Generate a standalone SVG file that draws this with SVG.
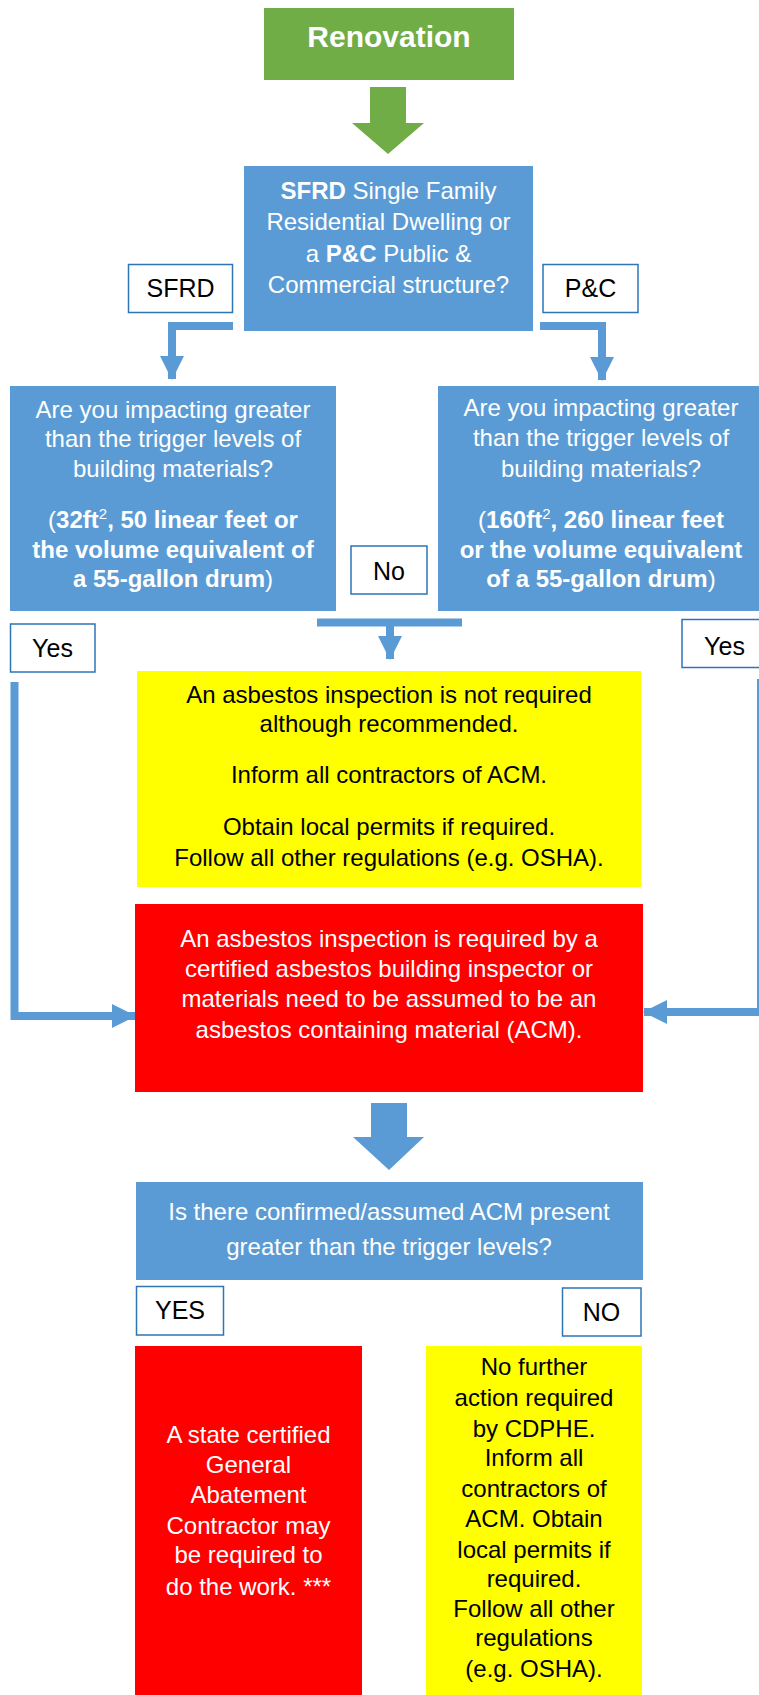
<svg xmlns="http://www.w3.org/2000/svg" width="759" height="1695" viewBox="0 0 759 1695">
  <style>
    text { font-family: "Liberation Sans", Arial, sans-serif; text-anchor: middle; }
    .w { fill: #FFFFFF; font-size: 24px; }
    .k { fill: #000000; font-size: 24px; }
    .lbl { fill: #000000; font-size: 25px; }
    .lblbox { fill: #FFFFFF; stroke: #2E75B6; stroke-width: 1.5; }
    .b { font-weight: bold; }
    .conn { fill: none; stroke: #5B9BD5; stroke-width: 8; stroke-linejoin: miter; }
    .blue { fill: #5B9BD5; }
  </style>
  <defs>
    <marker id="arr" markerUnits="userSpaceOnUse" markerWidth="24" markerHeight="24" viewBox="0 0 24 24" refX="23" refY="12" orient="auto">
      <path d="M0,0 L24,12 L0,24 z" fill="#5B9BD5"/>
    </marker>
  </defs>

  <g id="connectors">
    <!-- green block arrow -->
    <polygon points="370,87 406,87 406,123 424,123 388,154 352,123 370,123" fill="#70AD47"/>
    <!-- SFRD elbow -->
    <path class="conn" d="M233,326 L172,326 L172,379" marker-end="url(#arr)"/>
    <!-- P&C elbow -->
    <path class="conn" d="M540,326 L602,326 L602,380" marker-end="url(#arr)"/>
    <!-- No connector -->
    <path class="conn" d="M317,622.5 L462,622.5"/>
    <path class="conn" d="M390,622 L390,659" marker-end="url(#arr)"/>
    <!-- left Yes -->
    <path class="conn" d="M14.5,682 L14.5,1016 L135,1016" marker-end="url(#arr)"/>
    <!-- right Yes -->
    <path class="conn" d="M761,679 L761,1012 L644,1012" marker-end="url(#arr)"/>
    <!-- blue block arrow -->
    <polygon points="371,1103 407,1103 407,1137 424,1137 389,1170 353,1137 371,1137" fill="#5B9BD5"/>
  </g>

  <g id="renovation">
    <rect x="264" y="8" width="250" height="72" fill="#70AD47"/>
    <text x="389" y="47" fill="#FFFFFF" font-size="30" font-weight="bold">Renovation</text>
  </g>

  <g id="type-question">
    <rect x="244" y="166" width="289" height="165" class="blue"/>
    <text class="w" x="388.5" y="199"><tspan class="b">SFRD</tspan> Single Family</text>
    <text class="w" x="388.5" y="230">Residential Dwelling or</text>
    <text class="w" x="388.5" y="262">a <tspan class="b">P&amp;C</tspan> Public &amp;</text>
    <text class="w" x="388.5" y="293">Commercial structure?</text>
  </g>

  <g id="label-sfrd">
    <rect x="128.5" y="264.5" width="104" height="48" class="lblbox"/>
    <text class="lbl" x="180.5" y="297">SFRD</text>
  </g>

  <g id="label-pc">
    <rect x="543" y="264.5" width="95" height="48" class="lblbox"/>
    <text class="lbl" x="590.5" y="297">P&amp;C</text>
  </g>

  <g id="sfrd-question">
    <rect x="10" y="386" width="326" height="225" class="blue"/>
    <text class="w" x="173" y="418">Are you impacting greater</text>
    <text class="w" x="173" y="447">than the trigger levels of</text>
    <text class="w" x="173" y="477">building materials?</text>
    <text class="w" x="173" y="528">(<tspan class="b">32ft</tspan><tspan font-size="15" dy="-9">2</tspan><tspan class="b" dy="9">, 50 linear feet or</tspan></text>
    <text class="w b" x="173" y="558">the volume equivalent of</text>
    <text class="w" x="173" y="587"><tspan class="b">a 55-gallon drum</tspan>)</text>
  </g>

  <g id="pc-question">
    <rect x="438" y="386" width="326" height="225" class="blue"/>
    <text class="w" x="601" y="416">Are you impacting greater</text>
    <text class="w" x="601" y="446">than the trigger levels of</text>
    <text class="w" x="601" y="477">building materials?</text>
    <text class="w" x="601" y="528">(<tspan class="b">160ft</tspan><tspan font-size="15" dy="-9">2</tspan><tspan class="b" dy="9">, 260 linear feet</tspan></text>
    <text class="w b" x="601" y="558">or the volume equivalent</text>
    <text class="w" x="601" y="587"><tspan class="b">of a 55-gallon drum</tspan>)</text>
  </g>

  <g id="label-no">
    <rect x="351" y="546" width="76" height="48" class="lblbox"/>
    <text class="lbl" x="389" y="580">No</text>
  </g>

  <g id="label-yes-left">
    <rect x="10.5" y="624" width="84.5" height="48" class="lblbox"/>
    <text class="lbl" x="52.5" y="657">Yes</text>
  </g>

  <g id="label-yes-right">
    <rect x="682" y="619.5" width="90" height="48" class="lblbox"/>
    <text class="lbl" x="724.5" y="655">Yes</text>
  </g>

  <g id="not-required">
    <rect x="137" y="671" width="504" height="216" fill="#FFFF00"/>
    <text class="k" x="389" y="703">An asbestos inspection is not required</text>
    <text class="k" x="389" y="732">although recommended.</text>
    <text class="k" x="389" y="783">Inform all contractors of ACM.</text>
    <text class="k" x="389" y="835">Obtain local permits if required.</text>
    <text class="k" x="389" y="866">Follow all other regulations (e.g. OSHA).</text>
  </g>

  <g id="inspection-required">
    <rect x="135" y="904" width="508" height="188" fill="#FF0000"/>
    <text class="w" x="389" y="947">An asbestos inspection is required by a</text>
    <text class="w" x="389" y="977">certified asbestos building inspector or</text>
    <text class="w" x="389" y="1007">materials need to be assumed to be an</text>
    <text class="w" x="389" y="1038">asbestos containing material (ACM).</text>
  </g>

  <g id="acm-question">
    <rect x="136" y="1182" width="507" height="98" class="blue"/>
    <text class="w" x="389" y="1220">Is there confirmed/assumed ACM present</text>
    <text class="w" x="389" y="1255">greater than the trigger levels?</text>
  </g>

  <g id="label-yes2">
    <rect x="136.5" y="1286.5" width="87" height="48.5" class="lblbox"/>
    <text class="lbl" x="180" y="1319">YES</text>
  </g>

  <g id="label-no2">
    <rect x="562.5" y="1288" width="78.5" height="48" class="lblbox"/>
    <text class="lbl" x="601.5" y="1321">NO</text>
  </g>

  <g id="abatement">
    <rect x="135" y="1346" width="227" height="349" fill="#FF0000"/>
    <text class="w" x="248.5" y="1443">A state certified</text>
    <text class="w" x="248.5" y="1473">General</text>
    <text class="w" x="248.5" y="1503">Abatement</text>
    <text class="w" x="248.5" y="1534">Contractor may</text>
    <text class="w" x="248.5" y="1563">be required to</text>
    <text class="w" x="248.5" y="1595">do the work. ***</text>
  </g>

  <g id="no-further-action">
    <rect x="426" y="1346" width="216" height="349" fill="#FFFF00"/>
    <text class="k" x="534" y="1375">No further</text>
    <text class="k" x="534" y="1406">action required</text>
    <text class="k" x="534" y="1437">by CDPHE.</text>
    <text class="k" x="534" y="1466">Inform all</text>
    <text class="k" x="534" y="1497">contractors of</text>
    <text class="k" x="534" y="1527">ACM. Obtain</text>
    <text class="k" x="534" y="1558">local permits if</text>
    <text class="k" x="534" y="1587">required.</text>
    <text class="k" x="534" y="1617">Follow all other</text>
    <text class="k" x="534" y="1646">regulations</text>
    <text class="k" x="534" y="1677">(e.g. OSHA).</text>
  </g>
</svg>
